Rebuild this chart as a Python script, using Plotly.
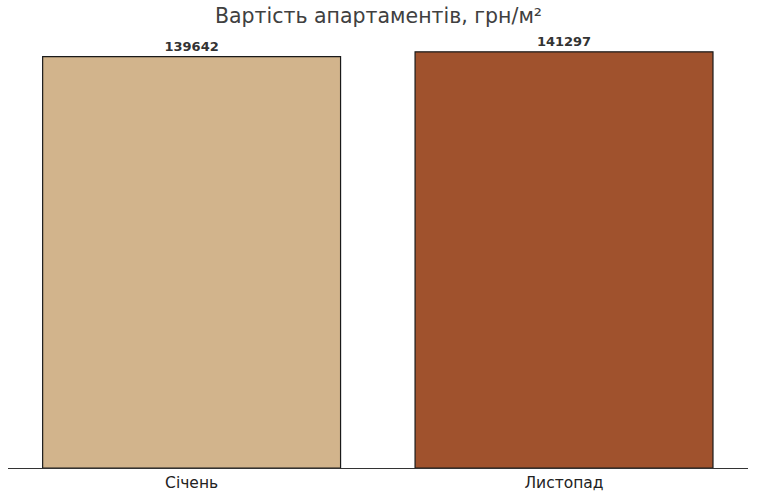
import plotly.graph_objects as go

months = ["Січень", "Листопад"]
prices = [139642, 141297]
bar_colors = ["#D2B48C", "#A0522D"]

fig = go.Figure()

fig.add_trace(go.Bar(
    x=months,
    y=prices,
    width=0.8,
    marker=dict(color=bar_colors, line=dict(color="#1a1a1a", width=1.2)),
    text=[f"<b>{v}</b>" for v in prices],
    textposition="outside",
    textfont=dict(family="DejaVu Sans", size=13, color="#333333"),
    cliponaxis=False,
))

fig.update_layout(
    width=757,
    height=500,
    paper_bgcolor="white",
    plot_bgcolor="white",
    showlegend=False,
    margin=dict(l=8, r=9, t=31, b=27),
    title=dict(
        text="Вартість апартаментів, грн/м²",
        x=0.5, xanchor="center",
        y=0.968, yanchor="middle",
        font=dict(family="DejaVu Sans", size=20.5, color="#404040"),
    ),
    font=dict(family="DejaVu Sans"),
)

fig.update_xaxes(
    range=[-0.493, 1.494],
    showline=True, linecolor="#333333", linewidth=1.2,
    showgrid=False, ticks="",
    tickfont=dict(family="DejaVu Sans", size=15.5, color="#222222"),
)
fig.update_yaxes(
    range=[0, 148362],
    visible=False, showgrid=False, zeroline=False,
)

# drop the default 8px body margin so the figure fills the window
fig.write_html(
    "out.html",
    config={"displayModeBar": False},
    post_script="document.body.style.margin='0';",
)
